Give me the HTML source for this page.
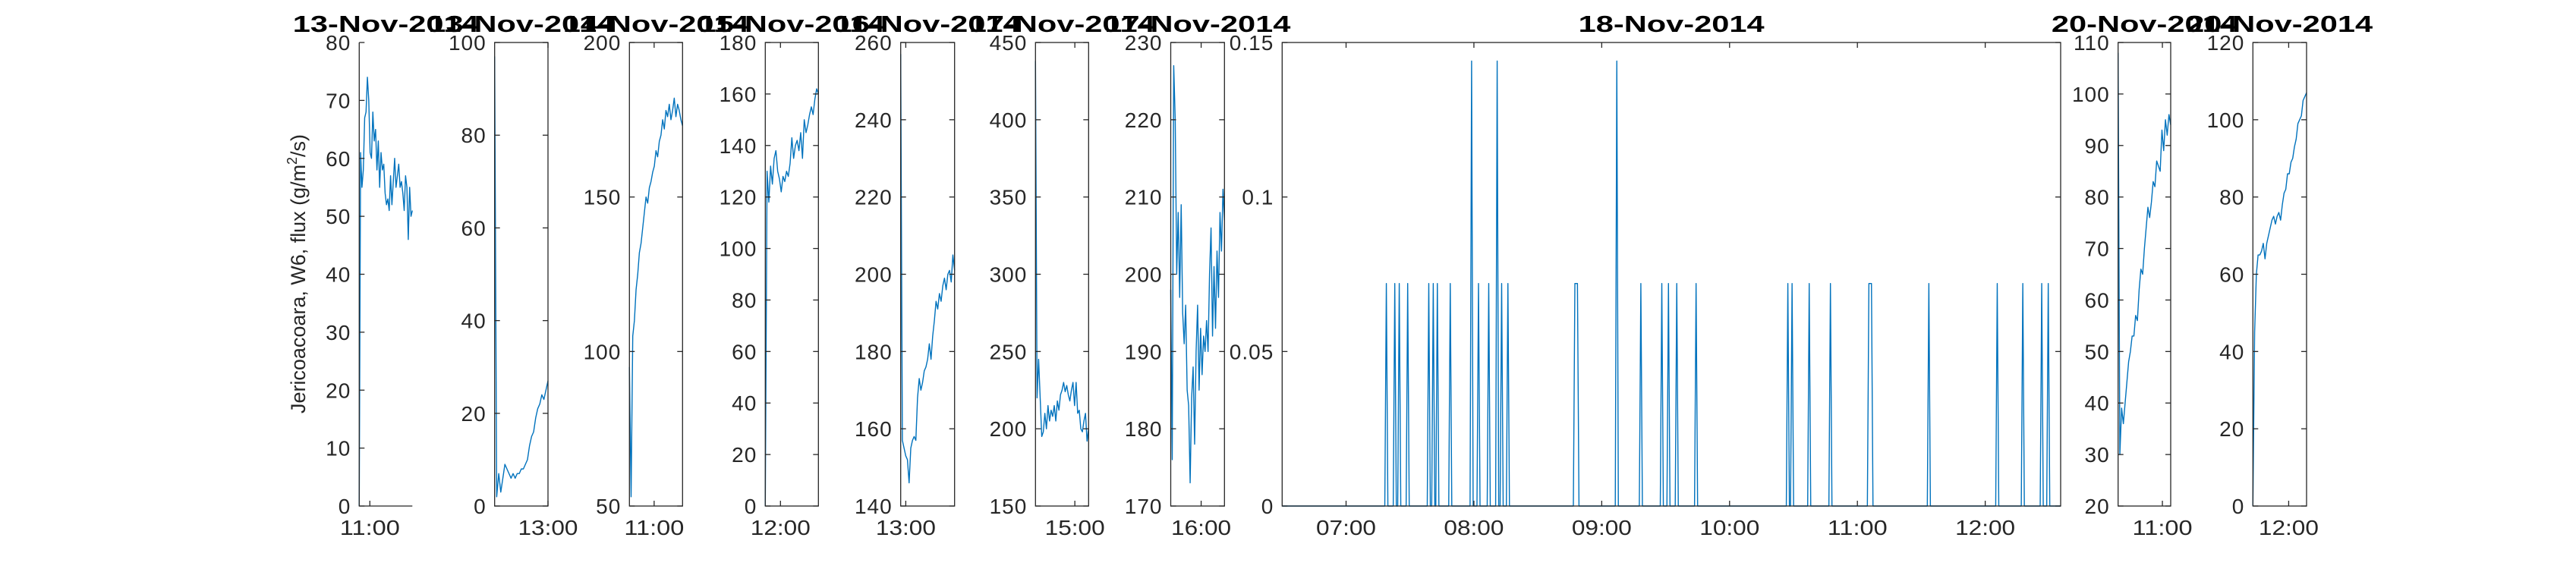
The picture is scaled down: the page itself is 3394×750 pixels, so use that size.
<!DOCTYPE html>
<html><head><meta charset="utf-8"><style>
html,body{margin:0;padding:0;background:#fff;}
svg{display:block;font-family:"Liberation Sans",sans-serif;}
</style></head><body>
<svg id="chart" width="3394" height="750" viewBox="0 0 3394 750" xmlns="http://www.w3.org/2000/svg">
<rect width="3394" height="750" fill="#fff"/>
<text transform="translate(402,361) rotate(-90)" text-anchor="middle" font-size="27" fill="#262626" textLength="368">Jericoacoara, W6, flux (g/m<tspan font-size="18" dy="-11">2</tspan><tspan dy="11">/s)</tspan></text>
</svg>
<script>
// ---- data ----
const titles = ["13-Nov-2014","13-Nov-2014","14-Nov-2014","15-Nov-2014","16-Nov-2014","17-Nov-2014","17-Nov-2014","18-Nov-2014","20-Nov-2014","20-Nov-2014"];
const xDomains = [[10.9,11.4],[12.55,13.0],[10.8,11.23],[11.85,12.375],[12.95,13.48],[14.6,15.14],[15.7,16.23],[6.5,12.59],[10.2,11.15],[11.6,12.2]];
const xTickHours = [[11],[13],[11],[12],[13],[15],[16],[7,8,9,10,11,12],[11],[12]];
const yDomains = [[0,80],[0,100],[50,200],[0,180],[140,260],[150,450],[170,230],[0,0.15],[20,110],[0,120]];
const yTicks = [[0,10,20,30,40,50,60,70,80],[0,20,40,60,80,100],[50,100,150,200],[0,20,40,60,80,100,120,140,160,180],[140,160,180,200,220,240,260],[150,200,250,300,350,400,450],[170,180,190,200,210,220,230],[0,0.05,0.1,0.15],[20,30,40,50,60,70,80,90,100,110],[0,20,40,60,80,100,120]];
const p1Values = [0,61,55,58,67,68,74,70,61,60,68,63,65,58,63,55,61,58,59,54,52,53,51,57,52,56,60,55,57,59,55,56,54,51,57,55,46,55,50,51];
const p2Values = [97,2,7,3,6,9,8,7,6,7,6,7,7,8,8,9,10,13,15,16,19,21,22,24,23,25,27];
const p3Values = [95,53,105,110,120,125,132,135,140,145,150,148,153,155,158,160,165,163,168,170,175,172,178,176,180,175,178,182,176,180,178,175,173];
const p4Values = [0,130,118,132,125,135,138,130,127,122,128,126,130,128,133,143,135,140,142,138,145,135,150,145,148,152,155,152,158,162,160];
const p5Values = [257,157,155,153,152,146,155,157,158,157,168,173,170,172,175,176,178,182,178,184,188,193,191,195,193,197,199,196,200,201,198,205,201];
const p6Values = [438,220,245,220,195,198,210,200,215,205,212,208,215,205,218,212,222,225,230,224,228,222,218,225,230,215,230,210,212,200,198,205,210,192,200];
const p7Values = [198,176,227,220,200,208,197,209,195,191,196,185,183,173,184,188,178,190,196,185,193,187,192,190,194,190,200,206,192,201,193,203,197,208,203,211,207];
const p8SpikeTimes = [7.315,7.381,7.416,7.482,7.647,7.682,7.714,7.815,7.982,8.036,8.116,8.182,8.217,8.266,8.790,9.118,9.306,9.470,9.522,9.587,9.738,10.456,10.489,10.623,10.789,11.090,11.559,12.094,12.294,12.442,12.493];
const p8SpikeValues = [0.072,0.072,0.072,0.072,0.072,0.072,0.072,0.072,0.144,0.072,0.072,0.144,0.072,0.072,0.072,0.144,0.072,0.072,0.072,0.072,0.072,0.072,0.072,0.072,0.072,0.072,0.072,0.072,0.072,0.072,0.072];
const p8SpikeHold = [0,0,0,0,0,0,0,0,0,0,0,0,0,0,0.02,0,0,0,0,0,0,0,0,0,0,0.02,0,0,0,0,0];
const p9Values = [108,30,39,36,40,44,48,50,53,53,57,56,62,66,65,70,74,78,76,79,83,82,87,86,85,93,89,95,92,96,94];
const p10Values = [0,45,60,65,65,66,68,64,68,70,72,74,75,73,75,76,74,78,81,82,86,86,89,90,93,95,99,100,101,105,106,107];

// ---- layout ----
const lefts = [473.3,651.7,829.3,1008.3,1186.7,1364.3,1542.5,1689.3,2790.7,2968.3];
const rights = [543.3,722,899.3,1078.3,1257.7,1434.3,1613.3,2715,2860,3039];
const TOP = 56, BOT = 667;
const NS = "http://www.w3.org/2000/svg";
const svg = document.getElementById('chart');
function mk(tag, attrs, parent){const e=document.createElementNS(NS,tag);for(const k in attrs)e.setAttribute(k,attrs[k]);(parent||svg).appendChild(e);return e;}
function fmtH(h){return (h<10?"0":"")+h+":00";}

const p8t=[xDomains[7][0]], p8v=[0];
const dt=0.012;
for(let i=0;i<p8SpikeTimes.length;i++){
  const t=p8SpikeTimes[i];
  p8t.push(t-dt,t,t+p8SpikeHold[i],t+p8SpikeHold[i]+dt);
  p8v.push(0,p8SpikeValues[i],p8SpikeValues[i],0);
}
p8t.push(xDomains[7][1]); p8v.push(0);

const seriesValues=[p1Values,p2Values,p3Values,p4Values,p5Values,p6Values,p7Values,null,p9Values,p10Values];

for(let p=0;p<10;p++){
  const L=lefts[p],R=rights[p];
  const [x0,x1]=xDomains[p],[y0,y1]=yDomains[p];
  const xs=v=>L+(v-x0)/(x1-x0)*(R-L);
  const ys=v=>BOT-(v-y0)/(y1-y0)*(BOT-TOP);
  const g=mk('g',{});
  
  
  let ts,vs;
  if(p===7){ts=p8t;vs=p8v;}
  else{vs=seriesValues[p];ts=vs.map((_,i)=>x0+(x1-x0)*i/(vs.length-1));}
  const d=ts.map((t,i)=>(i?'L':'M')+xs(t).toFixed(2)+','+ys(vs[i]).toFixed(2)).join('');
  const path=mk('path',{d:d,fill:'none',stroke:'#0072BD','stroke-width':1.4,'stroke-linejoin':'round'},g);
  
  
  const ax=mk('g',{stroke:'#262626','stroke-width':1.3,fill:'none'},g);
  
  
  if(p===0){
    mk('path',{d:`M${L},${TOP}V${BOT}H${R}`},ax);
  } else {
    mk('rect',{x:L,y:TOP,width:R-L,height:BOT-TOP},ax);
  }
  yTicks[p].forEach(v=>{
    const y=ys(v);
    mk('line',{x1:L,x2:L+7,y1:y,y2:y},ax);
    if(p!==0) mk('line',{x1:R,x2:R-7,y1:y,y2:y},ax);
    const t=mk('text',{x:L-11,y:y+10,'text-anchor':'end','font-size':28,'letter-spacing':1,fill:'#262626'},g);
    
    
    t.textContent=String(v);
  });
  xTickHours[p].forEach(h=>{
    const x=xs(h);
    mk('line',{x1:x,x2:x,y1:BOT,y2:BOT-7},ax);
    if(p!==0) mk('line',{x1:x,x2:x,y1:TOP,y2:TOP+7},ax);
    const t=mk('text',{x:x,y:705,'text-anchor':'middle','font-size':28,fill:'#262626',textLength:79,lengthAdjust:'spacingAndGlyphs'},g);
    
    
    t.textContent=fmtH(h);
  });
  const tt=mk('text',{x:(L+R)/2,y:42,'text-anchor':'middle','font-size':31,'font-weight':'bold',fill:'#000',textLength:245,lengthAdjust:'spacingAndGlyphs'},g);
  
  
  tt.textContent=titles[p];
}
</script>
</body></html>
